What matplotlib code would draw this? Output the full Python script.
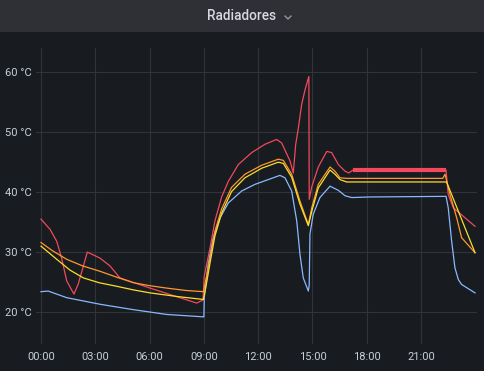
import numpy as np
import matplotlib
matplotlib.use("Agg")
import matplotlib.pyplot as plt
from matplotlib.lines import Line2D
from matplotlib.patches import Rectangle

# --------------------------------------------------------------------------- #
# Data (hours since 00:00, temperature in degC)
# --------------------------------------------------------------------------- #
red_h = [0.0, 0.5, 0.87, 1.14, 1.42, 1.82, 2.06, 2.56, 3.26, 3.81, 4.36, 6.02,
         8.6, 8.95, 9.02, 9.34, 9.61, 9.98, 10.35, 10.9, 11.64, 12.38, 13.02,
         13.3, 13.48, 13.76, 13.94, 14.07, 14.22, 14.4, 14.59, 14.8, 14.82,
         14.96, 15.32, 15.79, 16.06, 16.43, 16.8, 17.0, 17.25, 22.38, 22.5,
         22.78, 23.98]
red_t = [35.5, 33.8, 31.8, 29.0, 25.2, 23.0, 24.7, 30.0, 29.0, 27.7, 25.7, 24.0,
         21.5, 22.0, 26.0, 30.7, 35.2, 39.2, 41.8, 44.6, 46.6, 48.0, 48.8,
         48.2, 47.0, 45.2, 43.2, 47.9, 50.7, 54.6, 57.1, 59.3, 38.8,
         40.9, 44.2, 46.8, 46.6, 44.6, 43.5, 43.2, 43.7, 43.7, 39.6,
         37.4, 34.3]

orange_h = [0.0, 0.6, 1.42, 2.3, 3.26, 4.2, 5.1, 6.0, 6.94, 8.0, 8.97, 9.05,
            9.34, 9.61, 9.98, 10.53, 11.27, 12.2, 13.11, 13.39, 13.85, 14.31,
            14.77, 14.96, 15.32, 15.97, 16.24, 16.52, 16.9, 22.2, 22.32, 22.6,
            22.97, 23.24, 23.98]
orange_t = [31.6, 30.3, 28.8, 27.7, 26.8, 25.8, 24.9, 24.4, 24.0, 23.6, 23.4, 24.5,
            29.0, 33.5, 37.2, 40.8, 43.0, 44.5, 45.5, 45.3, 43.0, 38.5,
            34.6, 37.4, 41.3, 44.2, 43.5, 42.4, 42.3, 42.3, 43.0, 39.6,
            35.7, 32.4, 29.9]

yellow_h = [0.0, 0.87, 1.6, 2.34, 3.2, 4.18, 5.1, 6.02, 7.5, 8.97, 9.1, 9.34,
            9.61, 9.98, 10.53, 11.27, 12.2, 13.11, 13.39, 13.85, 14.31, 14.77,
            14.96, 15.32, 15.97, 16.24, 16.52, 16.89, 22.41, 23.98]
yellow_t = [31.0, 28.8, 27.0, 25.7, 24.9, 24.3, 23.7, 23.2, 22.6, 22.1, 24.0, 28.2,
            32.7, 36.5, 40.1, 42.4, 44.0, 45.0, 44.8, 42.5, 38.0, 34.4,
            36.8, 40.7, 43.7, 43.0, 42.1, 41.7, 41.7, 29.9]

blue_h = [0.0, 0.4, 1.42, 3.26, 5.1, 6.94, 8.97, 9.0, 9.02, 9.24, 9.52, 9.89,
          10.35, 11.09, 11.82, 12.56, 13.2, 13.48, 13.85, 14.13, 14.31, 14.49,
          14.77, 14.82, 14.86, 15.04, 15.41, 15.97, 16.43, 16.8, 17.17, 18.2,
          22.38, 22.5, 22.69, 22.87, 23.06, 23.24, 23.98]
blue_t = [23.4, 23.5, 22.4, 21.3, 20.4, 19.6, 19.2, 19.2, 22.4, 28.0, 32.4, 35.7,
          38.2, 40.2, 41.3, 42.1, 42.8, 42.4, 40.2, 35.2, 29.6, 25.7,
          23.5, 24.5, 33.0, 36.3, 39.1, 41.0, 40.3, 39.4, 39.1, 39.2,
          39.3, 37.4, 31.8, 27.4, 25.4, 24.6, 23.2]

# noisy red plateau drawn thicker
plateau = (17.25, 22.38)

x_ticks = [0, 3, 6, 9, 12, 15, 18, 21]
x_labels = ["00:00", "03:00", "06:00", "09:00", "12:00", "15:00", "18:00", "21:00"]
y_ticks = [20, 30, 40, 50, 60]
y_labels = ["20 °C", "30 °C", "40 °C", "50 °C", "60 °C"]

# --------------------------------------------------------------------------- #
# Grafana dark style
# --------------------------------------------------------------------------- #
BG = "#181b1f"
HEADER = "#2f3035"
GRID = "#303338"
TEXT = "#c7d0d9"

COLORS = {
    "red": "#f2495c",
    "orange": "#ff9830",
    "yellow": "#fade2a",
    "blue": "#8ab8ff",
}

W, H = 484, 371
plt.rcParams["font.family"] = ["Roboto", "DejaVu Sans"]

fig = plt.figure(figsize=(W / 100, H / 100), dpi=100, facecolor=BG)

# panel header
fig.add_artist(Rectangle((0, 1 - 32 / H), 1, 32 / H, transform=fig.transFigure,
                         facecolor=HEADER, edgecolor="none", zorder=0))
fig.text(242 / W, 1 - 16.5 / H, "Radiadores", ha="center", va="center",
         color="#d8d9e0", fontsize=9.8, fontweight="medium")
fig.add_artist(Line2D([285 / W, 288 / W, 291 / W],
                      [1 - 16 / H, 1 - 19 / H, 1 - 16 / H],
                      transform=fig.transFigure, color="#9fa0a8", lw=0.9))

left, right, top, bottom = 36, 477, 48, 344
ax = fig.add_axes([left / W, 1 - bottom / H, (right - left) / W, (bottom - top) / H])
ax.set_facecolor(BG)

ax.plot(red_h, red_t, color=COLORS["red"], lw=0.9, zorder=3)
rh = np.array(red_h)
rt = np.array(red_t)
m = (rh >= plateau[0]) & (rh <= plateau[1])
ax.plot(rh[m], rt[m], color=COLORS["red"], lw=3.0, solid_capstyle="butt", zorder=3)
ax.plot(orange_h, orange_t, color=COLORS["orange"], lw=0.9, zorder=4)
ax.plot(yellow_h, yellow_t, color=COLORS["yellow"], lw=0.9, zorder=4)
ax.plot(blue_h, blue_t, color=COLORS["blue"], lw=0.9, zorder=3)

ax.set_xlim(-0.276, 24.09)
ax.set_ylim(14.67, 64.05)
ax.set_xticks(x_ticks)
ax.set_xticklabels(x_labels)
ax.set_yticks(y_ticks)
ax.set_yticklabels(y_labels)
ax.grid(True, color=GRID, lw=0.8)
ax.set_axisbelow(True)
ax.tick_params(colors=TEXT, length=0, labelsize=8, pad=3)
ax.tick_params(axis="x", pad=6)
for s in ax.spines.values():
    s.set_visible(False)

fig.savefig("out.png", dpi=100, facecolor=BG)
